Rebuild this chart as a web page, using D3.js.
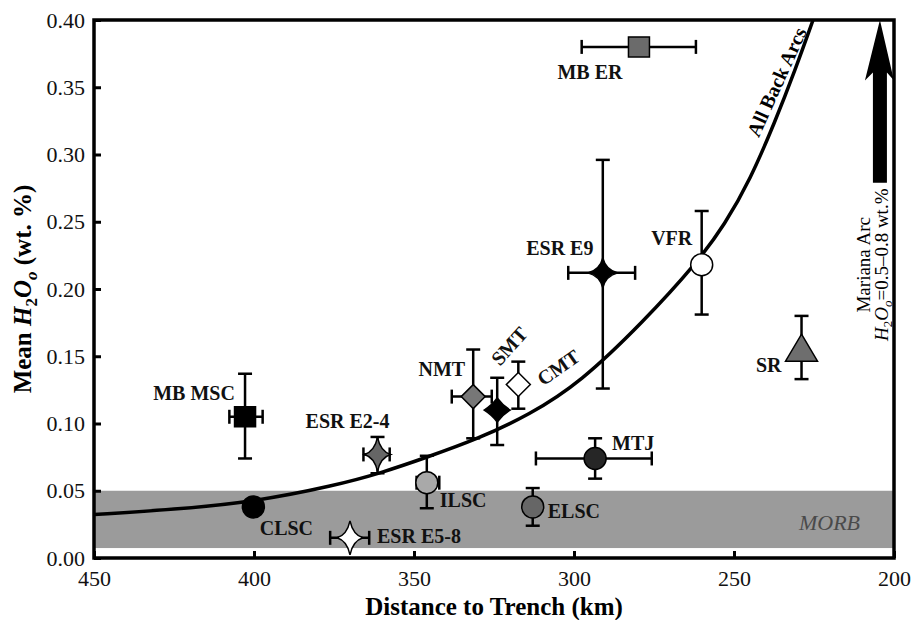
<!DOCTYPE html>
<html>
<head>
<meta charset="utf-8">
<script src="https://d3js.org/d3.v7.min.js"></script>
<style>
  body { margin: 0; background: #fff; }
  svg { display: block; font-family: "Liberation Serif", "Times New Roman", serif; }
</style>
</head>
<body>
<svg id="chart" width="911" height="620"></svg>
<script>
// DATA
var sites  = ["MB ER", "MB MSC", "ESR E2-4", "ILSC", "CLSC", "ESR E5-8", "NMT", "SMT", "CMT", "ESR E9", "VFR", "MTJ", "ELSC", "SR"];
var dist   = [279.7, 402.8, 361.4, 346.0, 400.2, 370.0, 331.5, 324.0, 317.4, 291.0, 260.1, 293.4, 312.9, 228.9];
var h2o    = [0.380, 0.105, 0.077, 0.056, 0.038, 0.015, 0.120, 0.110, 0.129, 0.212, 0.218, 0.074, 0.038, 0.153];
var distFar  = [297.6, 407.7, 365.8, 349.2, null, 376.2, 338.2, null, null, 301.8, null, 311.9, null, null];
var distNear = [261.9, 397.3, 357.6, 342.1, null, 364.0, 325.7, null, null, 280.9, null, 275.7, null, null];
var h2oHigh  = [null, 0.137, 0.090, 0.076, null, null, 0.155, 0.134, 0.146, 0.296, 0.258, 0.089, 0.052, 0.180];
var h2oLow   = [null, 0.074, 0.063, 0.037, null, null, 0.089, 0.084, 0.111, 0.126, 0.181, 0.059, 0.024, 0.133];

// "All Back Arcs" trend, sampled along the drawn curve
var curveKm  = [450, 425, 400, 375, 360, 346, 330, 314, 298, 278.4, 261.6, 252.8, 245, 237.2, 230.9, 225.3];
var curveH2o = [0.0323, 0.036, 0.0418, 0.0537, 0.0634, 0.0749, 0.0886, 0.1064, 0.1305, 0.1755, 0.2193, 0.2483, 0.281, 0.3242, 0.3628, 0.40];

var morbRange = [0.0074, 0.05];
var xTicks = [450, 400, 350, 300, 250, 200];
var yTicks = [0, 0.05, 0.10, 0.15, 0.20, 0.25, 0.30, 0.35, 0.40];

// STYLE per site: shape, fill, label offset (px), anchor, rotation
var shape = ["square", "square", "star", "circle", "circle", "star", "diamond", "fatstar", "diamond", "star9", "circle", "circle", "circle", "triangle"];
var fill  = ["#6b6b6b", "#000", "#666", "#a9a9a9", "#000", "#fff", "#777", "#000", "#fff", "#000", "#fff", "#262626", "#666", "#6e6e6e"];
var labelPos = [
    [-49, 32, "middle", 0], [-51, -17, "middle", 0], [-30, -26, "middle", 0], [13, 24, "start", 0],
    [33, 28, "middle", 0], [27, 5, "start", 0], [-8, -21, "end", 0], [12, -64, "middle", -48],
    [40, -17, "middle", -35], [-43, -18, "middle", 0], [-30, -20, "middle", 0], [17, -8, "start", 0],
    [15, 11, "start", 0], [-20, 20, "end", 0]
];

var paths = {
    square: "M-10.5,-10H10.5V10H-10.5Z",
    circle: "M11,0A11,11 0 1 1 -11,0A11,11 0 1 1 11,0Z",
    diamond: "M0,-12L12,0L0,12L-12,0Z",
    star: "M0,-17Q3,-3 13,0Q3,3 0,17Q-3,3 -13,0Q-3,-3 0,-17Z",
    star9: "M0,-15Q3,-3 15,0Q3,3 0,15Q-3,3 -15,0Q-3,-3 0,-15Z",
    fatstar: "M0,-12Q5,-5 13,0Q5,5 0,12Q-5,5 -13,0Q-5,-5 0,-12Z",
    triangle: "M0,-18L16,9L-16,9Z"
};

// SCALES
var svg = d3.select("#chart");
var x = d3.scaleLinear().domain([450, 200]).range([94, 894]);
var y = d3.scaleLinear().domain([0, 0.4]).range([558, 20]);

// MORB band
svg.append("rect")
    .attr("x", x(450)).attr("width", x(200) - x(450))
    .attr("y", y(morbRange[1])).attr("height", y(morbRange[0]) - y(morbRange[1]))
    .attr("fill", "#9b9b9b");
svg.append("text")
    .attr("x", x(229.7)).attr("y", y(0.0207))
    .attr("font-size", 22).attr("font-style", "italic").attr("fill", "#4a4a4a")
    .text("MORB");

// trend curve
var curvePts = curveKm.map(function (d, i) { return [d, curveH2o[i]]; });
svg.append("path")
    .datum(curvePts)
    .attr("fill", "none").attr("stroke", "#000").attr("stroke-width", 3.5)
    .attr("d", d3.line()
        .x(function (d) { return x(d[0]); })
        .y(function (d) { return y(d[1]); })
        .curve(d3.curveBasis));
svg.append("text")
    .attr("transform", "translate(" + x(236.7) + "," + y(0.354) + ") rotate(-65.6)")
    .attr("text-anchor", "middle").attr("dy", "0.35em")
    .attr("font-size", 20).attr("font-weight", "bold")
    .text("All Back Arcs");

// ERROR BARS
var cap = 7;
var bars = svg.append("g").attr("stroke", "#000").attr("stroke-width", 2.5).attr("fill", "none");
sites.forEach(function (s, i) {
    var cx = x(dist[i]), cy = y(h2o[i]);
    if (distFar[i] != null) {
        var x0 = x(distFar[i]), x1 = x(distNear[i]);
        bars.append("line").attr("x1", x0).attr("x2", x1).attr("y1", cy).attr("y2", cy);
        bars.append("line").attr("x1", x0).attr("x2", x0).attr("y1", cy - cap).attr("y2", cy + cap);
        bars.append("line").attr("x1", x1).attr("x2", x1).attr("y1", cy - cap).attr("y2", cy + cap);
    }
    if (h2oHigh[i] != null) {
        var y0 = y(h2oHigh[i]), y1 = y(h2oLow[i]);
        bars.append("line").attr("x1", cx).attr("x2", cx).attr("y1", y0).attr("y2", y1);
        bars.append("line").attr("x1", cx - cap).attr("x2", cx + cap).attr("y1", y0).attr("y2", y0);
        bars.append("line").attr("x1", cx - cap).attr("x2", cx + cap).attr("y1", y1).attr("y2", y1);
    }
});

// MARKERS
svg.append("g").selectAll("path")
    .data(sites)
    .join("path")
    .attr("transform", function (d, i) { return "translate(" + x(dist[i]) + "," + y(h2o[i]) + ")"; })
    .attr("d", function (d, i) { return paths[shape[i]]; })
    .attr("fill", function (d, i) { return fill[i]; })
    .attr("stroke", "#000").attr("stroke-width", 1.5);

// SITE LABELS
svg.append("g").selectAll("text")
    .data(sites)
    .join("text")
    .attr("transform", function (d, i) {
        var p = labelPos[i];
        return "translate(" + (x(dist[i]) + p[0]) + "," + (y(h2o[i]) + p[1]) + ") rotate(" + p[3] + ")";
    })
    .attr("dy", function (d, i) { return labelPos[i][3] ? "0.35em" : null; })
    .attr("text-anchor", function (d, i) { return labelPos[i][2]; })
    .attr("font-size", 20).attr("font-weight", "bold").attr("fill", "#111")
    .text(function (d) { return d; });

// Mariana arc arrow
var arrowKm = 204.4, arrowBase = 0.279, headBase = 0.355;
var ax = x(arrowKm);
svg.append("path")
    .attr("d", "M" + ax + "," + y(0.40) +
        "L" + (ax + 14) + "," + y(headBase) + "L" + (ax + 7) + "," + (y(headBase) - 8) +
        "L" + (ax + 7) + "," + y(arrowBase) + "L" + (ax - 7) + "," + y(arrowBase) +
        "L" + (ax - 7) + "," + (y(headBase) - 8) + "L" + (ax - 15) + "," + y(headBase) + "Z")
    .attr("fill", "#000");
var ann = svg.append("text")
    .attr("transform", "translate(" + (ax - 10) + "," + y(0.218) + ") rotate(-90)")
    .attr("text-anchor", "middle").attr("font-size", 19);
ann.append("tspan").attr("x", 0).text("Mariana Arc");
var l2 = ann.append("tspan").attr("x", 0).attr("dy", 18);
l2.append("tspan").attr("font-style", "italic").text("H");
l2.append("tspan").attr("font-size", 13).attr("dy", 4).text("2");
l2.append("tspan").attr("font-style", "italic").attr("dy", -4).text("O");
l2.append("tspan").attr("font-style", "italic").attr("font-size", 13).attr("dy", 4).text("o");
l2.append("tspan").attr("dy", -4).text("=0.5\u20130.8 wt.%");

// AXES
var xAxis = svg.append("g")
    .attr("transform", "translate(0," + y(0) + ")")
    .call(d3.axisBottom(x).tickValues(xTicks).tickSize(-7).tickPadding(12).tickFormat(d3.format("d")));
var yAxis = svg.append("g")
    .attr("transform", "translate(" + x(450) + ",0)")
    .call(d3.axisLeft(y).tickValues(yTicks).tickSize(-7).tickPadding(9).tickFormat(d3.format(".2f")));
[xAxis, yAxis].forEach(function (g) {
    g.attr("font-family", null).attr("font-size", 22);
    g.select(".domain").remove();
    g.selectAll(".tick line").attr("stroke-width", 3);
    g.selectAll(".tick text").attr("fill", "#111");
});

// frame
svg.append("rect")
    .attr("x", x(450)).attr("y", y(0.4))
    .attr("width", x(200) - x(450)).attr("height", y(0) - y(0.4))
    .attr("fill", "none").attr("stroke", "#000").attr("stroke-width", 3.5);

// AXIS TITLES
svg.append("text")
    .attr("x", (x(450) + x(200)) / 2).attr("y", 615)
    .attr("text-anchor", "middle").attr("font-size", 25).attr("font-weight", "bold")
    .text("Distance to Trench (km)");

var yt = svg.append("text")
    .attr("transform", "translate(31," + (y(0) + y(0.4)) / 2 + ") rotate(-90)")
    .attr("text-anchor", "middle").attr("font-size", 25).attr("font-weight", "bold");
yt.append("tspan").text("Mean ");
yt.append("tspan").attr("font-style", "italic").text("H");
yt.append("tspan").attr("font-size", 17).attr("dy", 6).text("2");
yt.append("tspan").attr("font-style", "italic").attr("dy", -6).text("O");
yt.append("tspan").attr("font-style", "italic").attr("font-size", 17).attr("dy", 6).text("o");
yt.append("tspan").attr("dy", -6).text(" (wt. %)");
</script>
</body>
</html>
